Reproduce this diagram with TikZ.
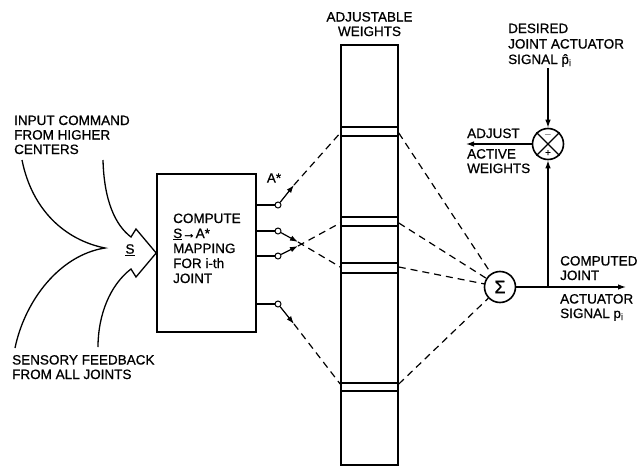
\documentclass[tikz,border=0pt]{standalone}
\usepackage{fontspec}
\setmainfont{Liberation Sans}[FakeBold=0.8]
\usepackage{tikz}
\usetikzlibrary{arrows.meta,positioning}

\begin{document}
\begin{tikzpicture}[x=1pt, y=-1pt, font=\fontsize{13.5}{14.5}\selectfont,
    block/.style={rectangle, draw, line width=1.6pt, minimum width=99pt, minimum height=158pt},
    column/.style={rectangle, draw, line width=1.6pt, minimum width=57pt, minimum height=420pt},
    txt/.style={align=left, inner sep=0pt, anchor=base west},
    switch/.style={circle, draw, line width=1pt, fill=white, minimum size=6pt, inner sep=0pt},
    junction/.style={circle, draw, line width=1.6pt, minimum size=31pt, inner sep=0pt},
    line/.style={draw, -{Latex[length=8pt,width=5.5pt]}, line width=1.2pt},
    weight/.style={draw, line width=1.2pt, dash pattern=on 7pt off 5pt}]

    \useasboundingbox (0,0) rectangle (638,466);

    % Nodes
    \node [block] (map) at (206.5,253) {};
    \node [txt, font=\fontsize{13.5}{15}\selectfont] (maptext) at (173,283) {COMPUTE\\\underline{S}→A*\\MAPPING\\FOR i-th\\JOINT};

    \node [column] (weights) at (369.5,255) {};
    \node [align=center, inner sep=0pt, anchor=base] (title) at (369.5,36) {ADJUSTABLE\\WEIGHTS};

    \node [junction, font=\fontsize{18}{18}\selectfont] (sum) at (500,287) {Σ};
    \node [junction] (comp) at (548,144) {};

    % Labels
    \node [txt] (input) at (14,154) {INPUT COMMAND\\FROM HIGHER\\CENTERS};
    \node [txt] (sensory) at (12,379) {SENSORY FEEDBACK\\FROM ALL JOINTS};
    \node [txt, font=\fontsize{13.5}{15.5}\selectfont] (desired) at (508,64) {DESIRED\\JOINT ACTUATOR\\SIGNAL \^{p}\textsubscript{i}};
    \node [txt] (adjust) at (467,138) {ADJUST};
    \node [txt] (active) at (467,173) {ACTIVE\\WEIGHTS};
    \node [txt] (computed) at (560,280) {COMPUTED\\JOINT};
    \node [txt] (actuator) at (560,318) {ACTUATOR\\SIGNAL p\textsubscript{i}};
    \node [inner sep=0pt] (astar) at (274,178) {A*};
    \node [inner sep=0pt] (svec) at (130,250) {\underline{S}};

    % Input arrows
    \draw [line width=1.3pt] (22,160) .. controls (32,210) and (65,240) .. (105,248)
        .. controls (60,255) and (25,300) .. (15,348);
    \draw [line width=1.3pt] (103,160) .. controls (104,200) and (115,225) .. (131,237)
        -- (136,229) -- (map.west) -- (136,277) -- (131,269)
        .. controls (110,285) and (98,315) .. (98,347);

    % Weights
    \foreach \a/\b/\c [count=\i] in {127/136/133, 217/226/223, 263/273/267, 383/391/384} {
        \draw [line width=1.6pt] (weights.west |- 0,\a) -- (weights.east |- 0,\a)
            (weights.west |- 0,\b) -- (weights.east |- 0,\b);
        \coordinate (wl\i) at (weights.west |- 0,\c);
        \coordinate (wr\i) at (weights.east |- 0,\c);
    }

    % Switches
    \foreach \y [count=\i] in {205,231,256,304} {
        \draw [line width=1.2pt] (map.east |- 0,\y) -- (278,\y);
        \node [switch] (s\i) at (278,\y) {};
    }
    \coordinate (t1) at (294,185);
    \coordinate (t2) at (298,242);
    \coordinate (t3) at (298,246);
    \coordinate (t4) at (294,324);
    \foreach \i in {1,...,4} \path [line] (s\i) -- (t\i);

    \path [weight] (t1) -- (wl1);
    \path [weight] (t2) -- (wl3);
    \path [weight] (t3) -- (wl2);
    \path [weight] (t4) -- (wl4);
    \foreach \i in {1,...,4} \path [weight] (wr\i) -- (sum);

    % Comparator
    \draw [line width=1.2pt] (comp.north east) -- (comp.south west)
        (comp.north west) -- (comp.south east);
    \node [inner sep=0pt, font=\fontsize{10}{10}\selectfont] at (548,135) {$-$};
    \node [inner sep=0pt, font=\fontsize{10}{10}\selectfont] at (548,153) {+};

    % Paths
    \coordinate (branch) at (548,287);
    \coordinate (out) at (626,287);
    \coordinate (din) at (548,68);
    \coordinate (adj) at (466,144);
    \path [line] (sum) -- (out);
    \path [line] (branch) -- (comp);
    \path [line] (din) -- (comp);
    \path [line] (comp) -- (adj);

\end{tikzpicture}
\end{document}
